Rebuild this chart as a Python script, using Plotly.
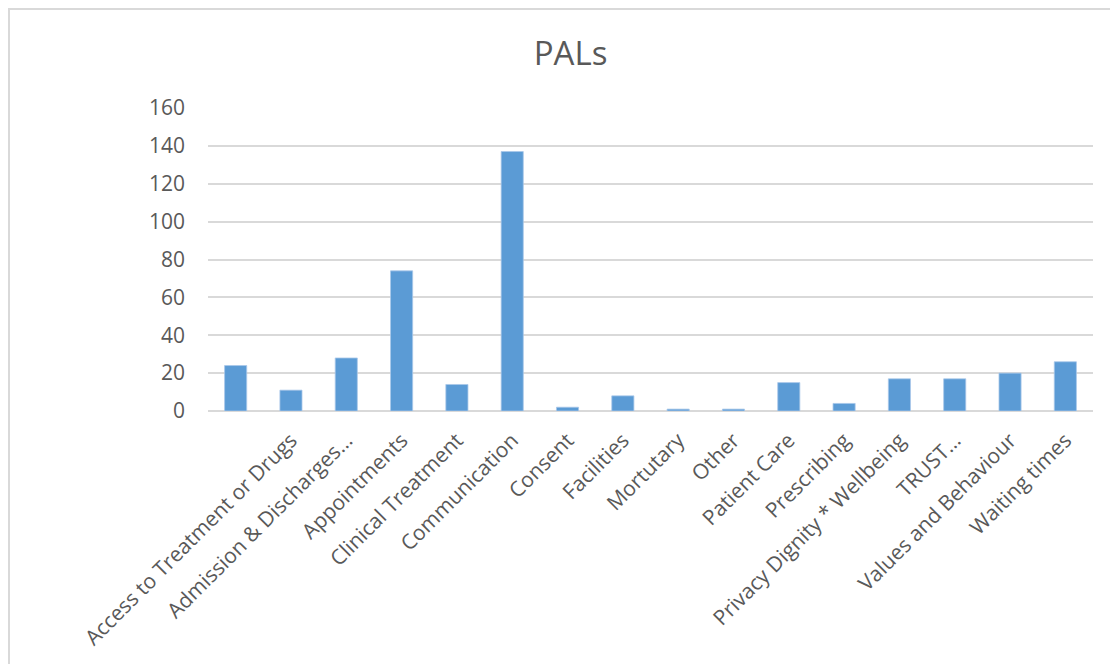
import plotly.graph_objects as go

# PALs enquiries per subject; the first subject is unlabelled in the source data
categories = [
    " ",
    "Access to Treatment or Drugs",
    "Admission & Discharges…",
    "Appointments",
    "Clinical Treatment",
    "Communication",
    "Consent",
    "Facilities",
    "Mortutary",
    "Other",
    "Patient Care",
    "Prescribing",
    "Privacy Dignity * Wellbeing",
    "TRUST…",
    "Values and Behaviour",
    "Waiting times",
]
counts = [24, 11, 28, 74, 14, 137, 2, 8, 1, 1, 15, 4, 17, 17, 20, 26]
y_ticks = [0, 20, 40, 60, 80, 100, 120, 140, 160]

W, H = 1110, 664
ML, MR, MT, MB = 208, 17, 108, 253
pw, ph = W - ML - MR, H - MT - MB


def px_x(x):
    return (x - ML) / pw


def px_y(y):
    return (H - MB - y) / ph


FONT = "Open Sans"
GREY = "#595959"

fig = go.Figure(
    go.Bar(
        x=categories,
        y=counts,
        marker=dict(color="#5B9BD5", line=dict(color="#A9C8EA", width=0.8)),
    )
)

fig.update_layout(
    width=W,
    height=H,
    margin=dict(l=ML, r=MR, t=MT, b=MB),
    paper_bgcolor="white",
    plot_bgcolor="white",
    bargap=0.6,
    showlegend=False,
    title=dict(
        text="PALs",
        x=0.514,
        xanchor="center",
        y=1 - 53 / H,
        yanchor="middle",
        font=dict(family=FONT, size=33, color=GREY),
    ),
    font=dict(family=FONT, color=GREY),
    shapes=[
        dict(
            type="path",
            xref="paper",
            yref="paper",
            path=f"M {px_x(9)} {px_y(H + 5)} L {px_x(9)} {px_y(9)} L {px_x(W + 5)} {px_y(9)}",
            line=dict(color="#D9D9D9", width=2),
        )
    ],
)

fig.update_xaxes(
    tickangle=-45,
    tickfont=dict(family=FONT, size=21, color=GREY),
    showgrid=False,
    ticks="",
    showline=False,
    ticklabelstandoff=12,
)
fig.update_yaxes(
    range=[0, 160],
    tickvals=y_ticks,
    tickfont=dict(family=FONT, size=21, color=GREY),
    showgrid=True,
    gridcolor="#D9D9D9",
    gridwidth=1.5,
    zeroline=True,
    zerolinecolor="#D9D9D9",
    zerolinewidth=1.5,
    ticks="",
    ticklabelstandoff=22,
)

fig.write_html("out.html")
